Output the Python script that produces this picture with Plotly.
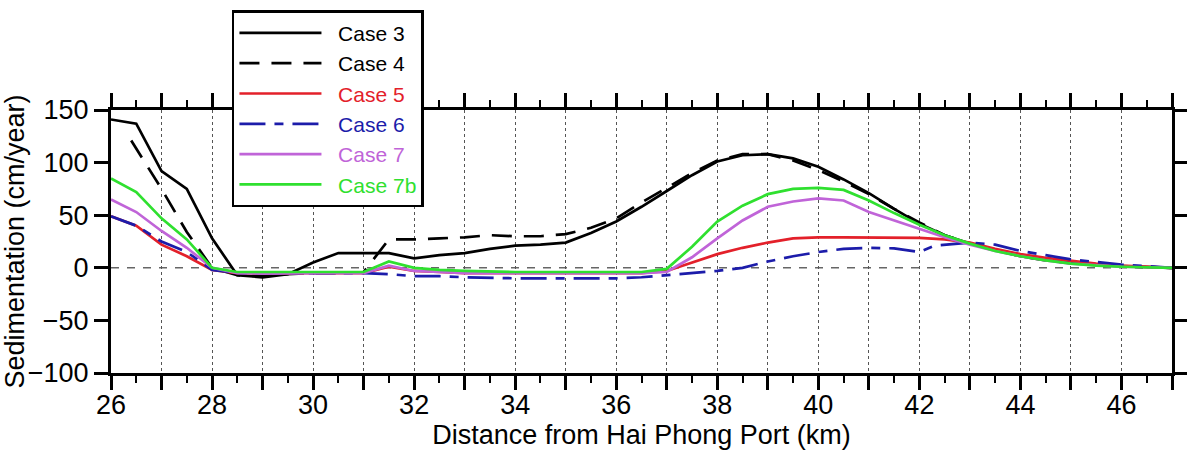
import plotly.graph_objects as go

# ---------------- data ----------------
case3_x = [26, 26.5, 27, 27.5, 28, 28.5, 29, 29.5, 30, 30.5, 31, 31.5, 32, 32.5, 33, 33.5, 34, 34.5, 35, 35.5,
           36, 36.5, 37, 37.5, 38, 38.5, 39, 39.5, 40, 40.5, 41, 41.5, 42, 42.5, 43, 43.5, 44, 44.5, 45, 45.5, 46, 46.5, 47]
case3_y = [141, 137, 92, 75, 28, -7, -9, -6, 5, 14, 14, 14, 9, 12, 14, 18, 21, 22, 24, 33,
           44, 58, 73, 88, 101, 107, 108, 104, 96, 84, 71, 56, 42, 31, 23, 17, 11, 7.5, 5, 3, 1.5, 0.5, 0]

case4_x = [26.4, 27, 27.5, 28, 28.5, 29, 29.5, 30, 30.5, 31, 31.5, 32, 32.5, 33, 33.5, 34, 34.5, 35, 35.5,
           36, 36.5, 37, 37.5, 38, 38.5, 39, 39.5, 40, 40.5, 41, 41.5, 42, 42.5, 43, 43.5, 44, 44.5, 45, 45.5, 46, 46.5, 47]
case4_y = [121, 75, 34, 0, -7, -8, -6, -5, -5, -4, 27, 27, 28, 29, 31, 30, 30, 32, 38,
           47, 62, 76, 90, 102, 108, 108, 102, 93, 82, 70, 56, 43, 31, 23, 17, 11, 7, 4.5, 3, 1.5, 0.5, 0]

case5_x = [26, 26.5, 27, 27.5, 28, 28.5, 29, 29.5, 30, 30.5, 31, 31.5, 32, 32.5, 33, 34, 35, 36, 36.5,
           37, 37.5, 38, 38.5, 39, 39.5, 40, 40.5, 41, 41.5, 42, 42.5, 43, 43.5, 44, 44.5, 45, 45.5, 46, 46.5, 47]
case5_y = [49, 40, 22, 11, -2, -5, -5, -5, -5, -5, -5, 1, -3, -4, -5, -5, -5, -5, -5,
           -3, 5, 13, 19, 24, 28, 29, 29, 29, 29, 28.5, 27, 24, 18, 13, 9.5, 6.5, 4, 2, 1, 0]

case6_x = [26, 26.5, 27, 27.5, 28, 28.5, 29, 29.5, 30, 30.5, 31, 31.5, 32, 32.5, 33, 34, 35, 36, 36.5,
           37, 37.5, 38, 38.5, 39, 39.5, 40, 40.5, 41, 41.5, 42, 42.3, 43, 43.5, 44, 44.5, 45, 45.5, 46, 46.5, 47]
case6_y = [49, 40, 25, 15, -2, -5, -5, -5, -5, -5, -5, -6, -8, -8, -9, -10, -10, -10, -9,
           -7, -5.5, -3, 0, 6, 11, 15, 18, 19, 18.5, 15, 21, 24, 22, 16, 12, 8, 5.5, 3, 1.5, 0]

case7_x = [26, 26.5, 27, 27.5, 28, 28.5, 29, 29.5, 30, 30.5, 31, 31.5, 32, 32.5, 33, 34, 35, 36, 36.5,
           37, 37.5, 38, 38.5, 39, 39.5, 40, 40.5, 41, 41.5, 42, 42.5, 43, 43.5, 44, 44.5, 45, 45.5, 46, 46.5, 47]
case7_y = [65, 53, 35, 19, 0, -5, -5.5, -5, -5, -5, -5, 2, -3, -4, -5, -5, -5, -5, -5,
           -4, 10, 28, 45, 58, 63, 66, 64, 53, 45, 37, 29, 22, 16, 11, 7, 4, 2.5, 1, 0.5, 0]

case7b_x = [26, 26.5, 27, 27.5, 28, 28.5, 29, 29.5, 30, 30.5, 31, 31.5, 32, 32.5, 33, 34, 35, 36, 36.5,
            37, 37.5, 38, 38.5, 39, 39.5, 40, 40.5, 41, 41.5, 42, 42.5, 43, 43.5, 44, 44.5, 45, 45.5, 46, 46.5, 47]
case7b_y = [85, 72, 47, 27, 0, -4, -4, -4, -4, -4, -4, 6, 0, -2, -3, -4, -4, -4, -4,
            -1, 20, 44, 59, 70, 75, 76, 74, 64, 52, 41, 31, 23, 16, 11, 7, 4, 2, 1, 0.5, 0]

series_names = ["Case 3", "Case 4", "Case 5", "Case 6", "Case 7", "Case 7b"]
x_ticks = list(range(26, 48))
x_ticklabels = [str(v) if v % 2 == 0 else "" for v in x_ticks]
y_ticks = [-100, -50, 0, 50, 100, 150]

# ---------------- styles ----------------
FONT = "Arial, Liberation Sans, sans-serif"
NB = "\u00a0"
styles = [
    dict(color="#000000", dash="solid"),
    dict(color="#000000", dash="20px,12px"),
    dict(color="#e3202a", dash="solid"),
    dict(color="#1c1caa", dash="26px,9px,9px,9px"),
    dict(color="#c064d8", dash="solid"),
    dict(color="#2fe02f", dash="solid"),
]
xs = [case3_x, case4_x, case5_x, case6_x, case7_x, case7b_x]
ys = [case3_y, case4_y, case5_y, case6_y, case7_y, case7b_y]

fig = go.Figure()
for name, x, y, st in zip(series_names, xs, ys, styles):
    label = f"<span style='color:{st['color']}'>{NB}{NB}{name}</span>"
    fig.add_trace(go.Scatter(
        x=x, y=y, mode="lines", name=label,
        line=dict(color=st["color"], width=2.7, dash=st["dash"]),
    ))

# dashed zero line
fig.add_shape(type="line", xref="x", yref="y", x0=26, x1=47, y0=0, y1=0,
              line=dict(color="#666666", width=1.5, dash="8px,8px"), layer="below")

fig.update_layout(
    width=1187, height=450,
    margin=dict(l=111, r=15, t=109, b=77),
    paper_bgcolor="white", plot_bgcolor="white",
    font=dict(family=FONT, size=27, color="black"),
    showlegend=True,
    legend=dict(
        x=0.114, y=1.374, xanchor="left", yanchor="top",
        bgcolor="white", bordercolor="black", borderwidth=2.5,
        font=dict(family=FONT, size=21, color="black"),
        itemwidth=82, tracegroupgap=0,
        entrywidth=100, entrywidthmode="pixels",
    ),
)

fig.update_xaxes(
    range=[26, 47], tickmode="array", tickvals=x_ticks, ticktext=x_ticklabels,
    ticks="outside", ticklen=14, tickwidth=2.5, tickcolor="black",
    minor=dict(dtick=0.5, tick0=26, ticks="outside", ticklen=7, tickwidth=2, tickcolor="black", showgrid=False),
    showline=True, linecolor="black", linewidth=3, mirror="ticks",
    showgrid=True, gridcolor="#555555", gridwidth=1, griddash="dot",
    zeroline=False,
    tickfont=dict(family=FONT, size=27),
    ticklabelstandoff=-8,
    title=dict(text="Distance from Hai Phong Port (km)", font=dict(family=FONT, size=27), standoff=4),
    automargin=False,
)
fig.update_yaxes(
    range=[-100, 150], tickmode="array", tickvals=y_ticks,
    ticks="outside", ticklen=14, tickwidth=2.5, tickcolor="black",
    showline=True, linecolor="black", linewidth=3, mirror="ticks",
    showgrid=False, zeroline=False,
    tickfont=dict(family=FONT, size=27),
    title=dict(text="Sedimentation (cm/year)", font=dict(family=FONT, size=27), standoff=0),
    automargin=False,
)

fig.write_html("out.html", config={"displayModeBar": False},
               post_script="document.body.style.margin='0';document.body.style.overflow='hidden';")
